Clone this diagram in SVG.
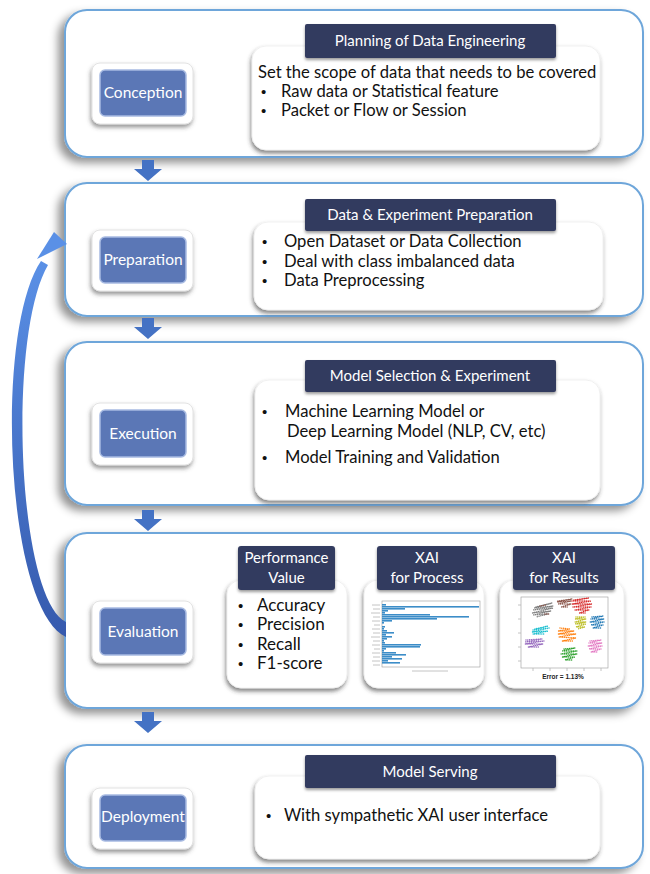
<svg xmlns="http://www.w3.org/2000/svg" width="650" height="874" viewBox="0 0 650 874">
<defs>
<filter id="psh" x="-10%" y="-10%" width="120%" height="125%"><feDropShadow dx="-6" dy="5" stdDeviation="4" flood-color="#000" flood-opacity="0.42"/></filter>
<filter id="csh" x="-10%" y="-10%" width="120%" height="130%"><feDropShadow dx="-1" dy="3" stdDeviation="2" flood-color="#333" flood-opacity="0.6"/></filter>
<filter id="hsh" x="-10%" y="-20%" width="120%" height="150%"><feDropShadow dx="0" dy="2" stdDeviation="1.5" flood-color="#000" flood-opacity="0.4"/></filter>
<filter id="bsh" x="-20%" y="-20%" width="140%" height="150%"><feDropShadow dx="-1" dy="3" stdDeviation="2" flood-color="#444" flood-opacity="0.55"/></filter>
<linearGradient id="cg" x1="0" y1="1" x2="0" y2="0"><stop offset="0" stop-color="#3559ad"/><stop offset="1" stop-color="#5a90e6"/></linearGradient>
<style>
.panel{fill:#fff;stroke:#6ea6da;stroke-width:2;filter:url(#psh)}
.card{fill:#fff;stroke:#eee;stroke-width:0.8;filter:url(#csh)}
.hdr{fill:#333a5e;filter:url(#hsh)}
.btnf{fill:#fff;stroke:#e2e2e2;filter:url(#bsh)}
.btn{fill:#5b77b6;stroke:#a8bbe2;stroke-width:1.5}
.bt{font-family:Lato,"Liberation Sans",sans-serif;font-size:15.5px;fill:#fff;text-anchor:middle}
.ht{font-family:Lato,"Liberation Sans",sans-serif;font-size:15px;fill:#fff;text-anchor:middle}
.t{font-family:Lato,"Liberation Sans",sans-serif;font-size:16.6px;fill:#111}
.t2{font-family:Lato,"Liberation Sans",sans-serif;font-size:17px;fill:#111}
.b{font-family:"Liberation Sans",sans-serif;font-size:15px;fill:#111}
.darr{fill:#4472c4}
.bar{fill:#3c8dc8}
.dots{fill:none;stroke-width:1.5;stroke-linecap:round;stroke-dasharray:0 1.8}
.ax{fill:none;stroke:#9a9a9a;stroke-width:0.6}
.lb{stroke:#b5b5b5;stroke-width:0.8}
</style>
</defs>

<g id="conception">
<rect class="panel" x="65" y="10" width="578" height="147" rx="22"/>
<rect class="btnf" x="92" y="63" width="101" height="61" rx="8"/>
<rect class="btn" x="100" y="70" width="86" height="46" rx="5"/>
<text class="bt" x="143" y="98">Conception</text>
<rect class="card" x="252" y="46" width="348" height="104" rx="14"/>
<rect class="hdr" x="305" y="24" width="251" height="34" rx="2"/>
<text class="ht" x="430" y="46">Planning of Data Engineering</text>
<text class="t" x="258" y="78">Set the scope of data that needs to be covered</text>
<text class="b" x="261" y="97">•</text><text class="t" x="281" y="97">Raw data or Statistical feature</text>
<text class="b" x="261" y="116">•</text><text class="t" x="281" y="116">Packet or Flow or Session</text>
</g>

<g id="preparation">
<rect class="panel" x="65" y="183" width="578" height="133" rx="22"/>
<rect class="btnf" x="92" y="230" width="101" height="61" rx="8"/>
<rect class="btn" x="100" y="237" width="86" height="46" rx="5"/>
<text class="bt" x="143" y="265">Preparation</text>
<rect class="card" x="254" y="222" width="349" height="88" rx="14"/>
<rect class="hdr" x="305" y="199" width="251" height="32" rx="2"/>
<text class="ht" x="430" y="220">Data &amp; Experiment Preparation</text>
<text class="b" x="262" y="247">•</text><text class="t" x="284" y="247">Open Dataset or Data Collection</text>
<text class="b" x="262" y="267">•</text><text class="t" x="284" y="267">Deal with class imbalanced data</text>
<text class="b" x="262" y="286">•</text><text class="t" x="284" y="286">Data Preprocessing</text>
</g>

<g id="execution">
<rect class="panel" x="65" y="342" width="578" height="163" rx="22"/>
<rect class="btnf" x="92" y="403" width="101" height="62" rx="8"/>
<rect class="btn" x="100" y="410" width="86" height="47" rx="5"/>
<text class="bt" x="143" y="439">Execution</text>
<rect class="card" x="255" y="380" width="345" height="120" rx="14"/>
<rect class="hdr" x="305" y="360" width="251" height="32" rx="2"/>
<text class="ht" x="430" y="381">Model Selection &amp; Experiment</text>
<text class="b" x="262" y="417">•</text><text class="t" x="285" y="417">Machine Learning Model or</text>
<text class="t" x="287" y="437">Deep Learning Model (NLP, CV, etc)</text>
<text class="b" x="262" y="463">•</text><text class="t" x="285" y="463">Model Training and Validation</text>
</g>

<g id="evaluation">
<rect class="panel" x="65" y="533" width="578" height="175" rx="22"/>
<rect class="btnf" x="92" y="601" width="101" height="62" rx="8"/>
<rect class="btn" x="100" y="608" width="86" height="47" rx="5"/>
<text class="bt" x="143" y="637">Evaluation</text>

<g id="performance-value">
<rect class="card" x="227" y="580" width="120" height="108" rx="14"/>
<rect class="hdr" x="238" y="546" width="97" height="44" rx="3"/>
<text class="ht" x="286.5" y="563">Performance</text>
<text class="ht" x="286.5" y="583">Value</text>
<text class="b" x="238" y="611">•</text><text class="t2" x="257" y="611">Accuracy</text>
<text class="b" x="238" y="630">•</text><text class="t2" x="257" y="630">Precision</text>
<text class="b" x="238" y="650">•</text><text class="t2" x="257" y="650">Recall</text>
<text class="b" x="238" y="669">•</text><text class="t2" x="257" y="669">F1-score</text>
</g>

<g id="xai-process">
<rect class="card" x="364" y="580" width="120" height="108" rx="14"/>
<rect class="hdr" x="377" y="546" width="100" height="44" rx="3"/>
<text class="ht" x="427" y="563">XAI</text>
<text class="ht" x="427" y="583">for Process</text>
<rect class="ax" x="382" y="601" width="98" height="66"/>
<g class="lb">
<line x1="372" y1="605" x2="380" y2="605"/><line x1="373" y1="609" x2="380" y2="609"/><line x1="371" y1="613" x2="380" y2="613"/><line x1="373" y1="617" x2="380" y2="617"/><line x1="372" y1="621" x2="380" y2="621"/><line x1="374" y1="625" x2="380" y2="625"/><line x1="372" y1="629" x2="380" y2="629"/><line x1="373" y1="633" x2="380" y2="633"/><line x1="371" y1="637" x2="380" y2="637"/><line x1="373" y1="641" x2="380" y2="641"/><line x1="372" y1="645" x2="380" y2="645"/><line x1="374" y1="649" x2="380" y2="649"/><line x1="372" y1="653" x2="380" y2="653"/><line x1="373" y1="657" x2="380" y2="657"/><line x1="372" y1="661" x2="380" y2="661"/><line x1="373" y1="665" x2="380" y2="665"/>
<line x1="412" y1="671" x2="448" y2="671"/>
</g>
<g class="bar">
<rect x="382" y="604" width="4" height="1.6"/><rect x="382" y="606" width="97" height="1.6"/><rect x="382" y="608" width="23" height="1.6"/><rect x="382" y="610" width="6" height="1.6"/><rect x="382" y="612" width="3" height="1.6"/><rect x="382" y="614" width="48" height="1.6"/><rect x="382" y="616" width="87" height="1.6"/><rect x="382" y="618" width="55" height="1.6"/><rect x="382" y="620" width="10" height="1.6"/><rect x="382" y="622" width="2" height="1.6"/><rect x="382" y="626" width="3" height="1.6"/><rect x="382" y="628" width="2" height="1.6"/><rect x="382" y="630" width="5" height="1.6"/><rect x="382" y="632" width="12" height="1.6"/><rect x="382" y="634" width="4" height="1.6"/><rect x="382" y="636" width="10" height="1.6"/><rect x="382" y="638" width="5" height="1.6"/><rect x="382" y="640" width="2" height="1.6"/><rect x="382" y="642" width="3" height="1.6"/><rect x="382" y="644" width="39" height="1.6"/><rect x="382" y="646" width="38" height="1.6"/><rect x="382" y="648" width="4" height="1.6"/><rect x="382" y="650" width="2" height="1.6"/><rect x="382" y="652" width="14" height="1.6"/><rect x="382" y="654" width="24" height="1.6"/><rect x="382" y="656" width="10" height="1.6"/><rect x="382" y="658" width="20" height="1.6"/><rect x="382" y="660" width="6" height="1.6"/><rect x="382" y="662" width="18" height="1.6"/>
</g>
</g>

<g id="xai-results">
<rect class="card" x="500" y="580" width="124" height="108" rx="14"/>
<rect class="hdr" x="513" y="546" width="102" height="44" rx="3"/>
<text class="ht" x="564" y="563">XAI</text>
<text class="ht" x="564" y="583">for Results</text>
<rect class="ax" x="521" y="597" width="87" height="71"/>
<g class="lb"><line x1="518" y1="605" x2="521" y2="605"/><line x1="518" y1="619" x2="521" y2="619"/><line x1="518" y1="633" x2="521" y2="633"/><line x1="518" y1="647" x2="521" y2="647"/><line x1="518" y1="661" x2="521" y2="661"/><line x1="533" y1="668" x2="533" y2="671"/><line x1="550" y1="668" x2="550" y2="671"/><line x1="567" y1="668" x2="567" y2="671"/><line x1="584" y1="668" x2="584" y2="671"/><line x1="601" y1="668" x2="601" y2="671"/></g>
<path class="dots" stroke="#7f7f7f" d="M536 607 l16 -4 l-18 5 l19 -2 l-20 4 l20 -2 l-21 5 l19 -2 l-18 4 l15 -1 l-12 3"/>
<path class="dots" stroke="#8c564b" d="M558 601 l14 -2 l-15 3 l14 -1 l-13 3 l13 0 l-10 3 l7 0 M540 606 l6 -1 M545 614 l4 0"/>
<path class="dots" stroke="#d62728" d="M574 600 l15 -2 l-17 3 l19 0 l-19 3 l20 0 l-19 3 l18 0 l-16 3 l14 0 l-10 3 l7 0"/>
<path class="dots" stroke="#bcbd22" d="M576 617 l9 0 l-10 2 l11 0 l-11 3 l11 0 l-11 2 l11 0 l-10 3 l9 0 l-7 2"/>
<path class="dots" stroke="#1f77b4" d="M592 617 l11 -1 l-12 3 l13 0 l-14 3 l14 0 l-13 3 l12 0 l-10 3 l8 0"/>
<path class="dots" stroke="#17becf" d="M535 629 l13 -3 l-15 4 l16 -2 l-17 4 l16 -1 l-15 3 l12 0"/>
<path class="dots" stroke="#9467bd" d="M526 640 l16 -1 l-17 3 l19 -1 l-19 3 l18 0 l-15 3 l11 0"/>
<path class="dots" stroke="#ff7f0e" d="M560 628 l10 1 l-12 2 l16 0 l-16 3 l18 0 l-17 3 l17 1 l-14 3 l11 0"/>
<path class="dots" stroke="#e377c2" d="M590 641 l11 -1 l-12 3 l13 0 l-14 3 l14 0 l-13 3 l12 0 l-10 3 l7 0"/>
<path class="dots" stroke="#2ca02c" d="M564 649 l11 -1 l-13 3 l15 0 l-16 3 l16 0 l-15 3 l13 0 l-10 3 l7 0"/>
<text x="563" y="679" style="font-family:'Liberation Sans',sans-serif;font-size:6.5px;font-weight:bold;fill:#222;text-anchor:middle">Error = 1.13%</text>
</g>
</g>

<g id="deployment">
<rect class="panel" x="65" y="745" width="578" height="123" rx="22"/>
<rect class="btnf" x="92" y="788" width="101" height="61" rx="8"/>
<rect class="btn" x="100" y="795" width="86" height="46" rx="5"/>
<text class="bt" x="143" y="822">Deployment</text>
<rect class="card" x="255" y="776" width="345" height="83" rx="14"/>
<rect class="hdr" x="305" y="755" width="251" height="33" rx="2"/>
<text class="ht" x="430" y="777">Model Serving</text>
<text class="b" x="266" y="821">•</text><text class="t" x="284" y="821">With sympathetic XAI user interface</text>
</g>

<g id="connectors">
<polygon class="darr" points="142,160 154,160 154,169 162,169 148,181 134,169 142,169"/>
<polygon class="darr" points="142,318 154,318 154,327 162,327 148,339 134,327 142,327"/>
<polygon class="darr" points="142,510 154,510 154,519 162,519 148,531 134,519 142,519"/>
<polygon class="darr" points="142,712 154,712 154,721 162,721 148,733 134,721 142,721"/>
<path fill="url(#cg)" d="M66 637 C5 608, -6 330, 41 261 L48 265 C7 335, 17 598, 66 622 Z"/>
<polygon fill="#5a90e6" points="54,232 67,244 37,259"/>
</g>
</svg>
